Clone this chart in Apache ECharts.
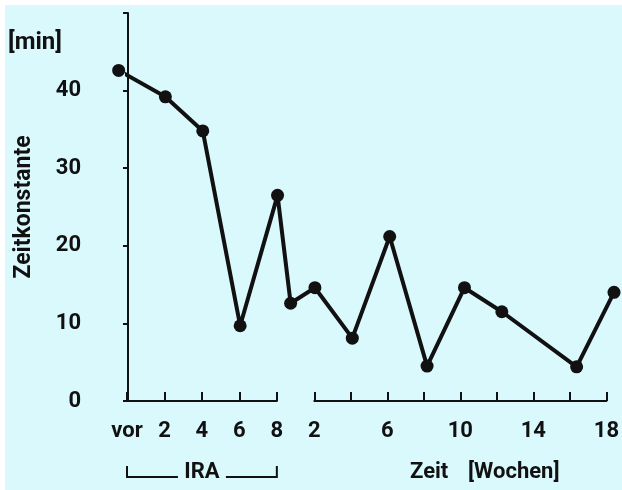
<!DOCTYPE html>
<html><head><meta charset="utf-8">
<script src="https://cdn.jsdelivr.net/npm/echarts@6/dist/echarts.min.js"></script>
<style>html,body{margin:0;background:#fff;} #c{position:absolute;left:5px;top:5px;width:617px;height:485px;}</style>
</head><body><div id="c"></div>
<script>
// IRA period (weeks of treatment); "vor" = before treatment
const iraTicks = [0, 2, 4, 6, 8];
const iraTickLabels = ['vor', '2', '4', '6', '8'];
const iraX = [-0.5, 2, 4, 6, 8];
const iraValues = [42.6, 39.2, 34.8, 9.7, 26.5];
// after treatment (weeks)
const postTickLabels = ['2', '6', '10', '14', '18'];
const postWeeks = [0.7, 2, 4, 6, 8, 10, 12, 16, 18];
const postValues = [12.6, 14.6, 8.1, 21.2, 4.5, 14.6, 11.5, 4.4, 14.0];
const yTickLabels = ['0', '10', '20', '30', '40'];

const POST_OFFSET = 8; // post week w sits at combined position 8 + w
const TMAX = POST_OFFSET + 18;

const FONT = 'Roboto, "DejaVu Sans", sans-serif';
const INK = '#111';
const BG = '#d9f9fd';

const W = 617, H = 485;
const gLeft = 122, gRight = 8, gTop = 8, gBottom = 89;
const unit = (W - gLeft - gRight) / TMAX;

const data = iraX.map((x, i) => [x, iraValues[i]])
  .concat(postWeeks.map((w, i) => [w + POST_OFFSET, postValues[i]]));

const chart = echarts.init(document.getElementById('c'), null, {renderer: 'canvas'});

const hiddenY = (gi) => ({gridIndex: gi, type: 'value', min: 0, max: 50, show: false});
const segX = (gi, min, max, fmt) => ({
  gridIndex: gi, type: 'value', min: min, max: max, interval: 2,
  axisLine: {show: true, lineStyle: {color: INK, width: 2}},
  axisTick: {show: true, inside: true, length: 9, lineStyle: {color: INK, width: 2}},
  splitLine: {show: false},
  axisLabel: {show: true, margin: 19, color: INK, fontFamily: FONT, fontSize: 22, fontWeight: 'bold', formatter: fmt}
});

chart.setOption({
  backgroundColor: BG,
  animation: false,
  grid: [
    {left: gLeft, right: gRight, top: gTop, bottom: gBottom},
    {left: gLeft, width: 8 * unit, top: gTop, bottom: gBottom},
    {left: gLeft + (POST_OFFSET + 2) * unit, right: gRight, top: gTop, bottom: gBottom}
  ],
  xAxis: [
    {gridIndex: 0, type: 'value', min: 0, max: TMAX, show: false},
    segX(1, 0, 8, v => { const i = iraTicks.indexOf(v); return i >= 0 ? iraTickLabels[i] : ''; }),
    segX(2, 2, 18, v => postTickLabels.indexOf(String(v)) >= 0 ? String(v) : '')
  ],
  yAxis: [
    {gridIndex: 0, type: 'value', min: 0, max: 50, interval: 10, offset: 42,
     name: 'Zeitkonstante', nameLocation: 'middle', nameRotate: 90, nameGap: 50,
     nameTextStyle: {color: INK, fontFamily: FONT, fontSize: 23, fontWeight: 'bold'},
     axisLine: {show: true, lineStyle: {color: INK, width: 2}},
     axisTick: {show: true, length: 5, lineStyle: {color: INK, width: 2}},
     splitLine: {show: false},
     axisLabel: {margin: 5, color: INK, fontFamily: FONT, fontSize: 22, fontWeight: 'bold',
       formatter: v => yTickLabels.indexOf(String(v)) >= 0 ? String(v) : ''}},
    hiddenY(1), hiddenY(2)
  ],
  series: [{
    type: 'line', xAxisIndex: 0, yAxisIndex: 0, data: data, clip: false,
    symbol: 'circle', symbolSize: 13, showSymbol: true,
    lineStyle: {color: INK, width: 4}, itemStyle: {color: INK}
  }]
});

const px0 = chart.convertToPixel({xAxisIndex: 1}, 0);
const px8 = chart.convertToPixel({xAxisIndex: 1}, 8);
const mid = (px0 + px8) / 2;
const by = 472, bTop = 461;
chart.setOption({
  graphic: [
    {type: 'text', left: 3, top: 26, style: {text: '[min]', fill: INK, font: 'bold 24px ' + FONT}},
    {type: 'polyline', shape: {points: [[px0, bTop], [px0, by], [mid - 24, by]]}, style: {stroke: INK, lineWidth: 2, fill: null}},
    {type: 'polyline', shape: {points: [[mid + 24, by], [px8, by], [px8, bTop]]}, style: {stroke: INK, lineWidth: 2, fill: null}},
    {type: 'text', x: mid, y: by - 5, style: {text: 'IRA', fill: INK, font: 'bold 22px ' + FONT, align: 'center', verticalAlign: 'middle'}},
    {type: 'text', x: 405, y: 467, style: {text: 'Zeit', fill: INK, font: 'bold 22px ' + FONT, verticalAlign: 'middle'}},
    {type: 'text', x: 463, y: 467, style: {text: '[Wochen]', fill: INK, font: 'bold 22px ' + FONT, verticalAlign: 'middle'}}
  ]
});
</script></body></html>
